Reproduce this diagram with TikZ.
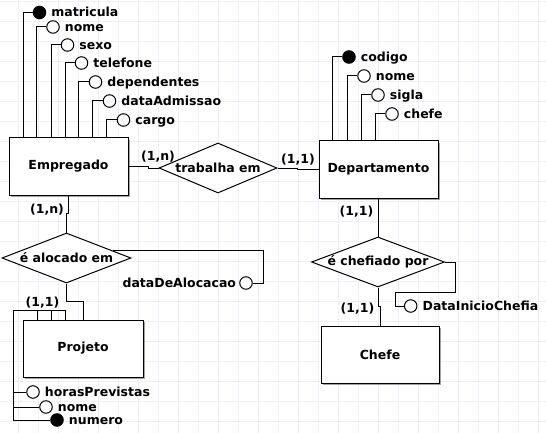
\documentclass[tikz,border=0pt]{standalone}
\usepackage{fontspec}
\setmainfont{DejaVu Sans}
\usetikzlibrary{shapes.geometric,shadows,calc}
\definecolor{gridv}{RGB}{232,240,249}
\definecolor{gridh}{RGB}{238,241,244}
\begin{document}
\begin{tikzpicture}[x=1pt,y=-1pt,
  every node/.style={font=\fontsize{12.5}{14}\selectfont\bfseries},
  ent/.style={draw, line width=1pt, fill=white, minimum width=119pt, minimum height=57pt, inner sep=0pt,
    drop shadow={shadow xshift=2pt, shadow yshift=-2pt, fill=black!60, opacity=0.6}},
  rel/.style={draw, diamond, line width=1pt, fill=white, inner sep=0pt, minimum height=50pt},
  att/.style={circle, draw, line width=1pt, fill=white, minimum size=12.5pt, inner sep=0pt},
  key/.style={att, fill=black},
  lbl/.style={anchor=base west, inner sep=0pt},
  card/.style={inner sep=0pt},
  conn/.style={line width=1pt}
]
\useasboundingbox (0,0) rectangle (546,433);
\fill[white] (0,0) rectangle (546,433);
\foreach \x in {18.3,38.3,...,546} \draw[gridv, line width=1pt] (\x,0) -- (\x,433);
\foreach \y in {1.3,21.3,...,433} \draw[gridh, line width=1pt] (0,\y) -- (546,\y);

% entities
\node[ent] (emp) at (68.5,166.5) {Empregado};
\node[ent] (dep) at (378.5,169.5) {Departamento};
\node[ent, minimum width=120pt] (proj) at (83,348.5) {Projeto};
\node[ent, minimum width=118pt] (chefe) at (380,354.5) {Chefe};

% relationships
\node[rel, minimum width=118pt] (trab) at (218,168) {\makebox[0pt]{trabalha em}};
\node[rel, minimum width=129pt] (aloc) at (66.5,258) {\makebox[0pt]{é alocado em}};
\node[rel, minimum width=133pt] (chef) at (378,262) {\makebox[0pt]{é chefiado por}};

% connectors
\draw[conn] (emp.east) -- ++(20,0) |- (trab.west);
\draw[conn] (trab.east) -- ++(20,0) |- (dep.west);
\draw[conn] (emp.south) -- ++(0,18) -| (aloc.north);
\draw[conn] (aloc.south) -- ++(0,18) -| (proj.north);
\draw[conn] (dep.south) -- ++(0,21) -| (chef.north);
\draw[conn] (chef.south) -- ++(0,19) -| (chefe.north);

% cardinalities
\node[card] (k1) at (158,157) {(1,n)};
\node[card] (k2) at (298,160) {(1,1)};
\node[card] (k3) at (47,210) {(1,n)};
\node[card] (k4) at (42.5,303) {(1,1)};
\node[card] (k5) at (356.5,212) {(1,1)};
\node[card] (k6) at (357.5,309) {(1,1)};

% Empregado attributes
\foreach \n/\t/\cx/\cy/\o/\s in {1/matricula/39.5/12.5/15/key, 2/nome/53/27/28/att, 3/sexo/67.5/45/43/att,
  4/telefone/81.5/63/57/att, 5/dependentes/95.5/82/70/att, 6/dataAdmissao/109.5/101/84/att, 7/cargo/123.5/120/98/att}{
  \node[\s] (e\n) at (\cx,\cy) {};
  \node[lbl] (e\n l) at ([xshift=5pt,yshift=-4.5pt]e\n.east) {\t};
  \draw[conn] (e\n.west) -| ($(emp.north west)+(\o,0)$);
}

% Departamento attributes
\foreach \n/\t/\cx/\cy/\o/\s in {1/codigo/349/57/14/key, 2/nome/364/76/29/att, 3/sigla/378/95/43/att, 4/chefe/392/114/57/att}{
  \node[\s] (d\n) at (\cx,\cy) {};
  \node[lbl] (d\n l) at ([xshift=5pt,yshift=-4.5pt]d\n.east) {\t};
  \draw[conn] (d\n.west) -| ($(dep.north west)+(\o,0)$);
}

% Projeto attributes
\foreach \n/\t/\cx/\cy/\o/\s in {1/horasPrevistas/33/392/15/att, 2/nome/46/407/29/att, 3/numero/57/420/43/key}{
  \node[\s] (p\n) at (\cx,\cy) {};
  \node[lbl] (p\n l) at ([xshift=5pt,yshift=-4.5pt]p\n.east) {\t};
  \draw[conn] ($(proj.north west)+(\o,0)$) |- (13,310.5) |- (p\n.west);
}

% relationship attributes
\coordinate (q) at ($(aloc.east)!0.29!(aloc.north)$);
\node[att] (dd) at (246,283) {};
\node[anchor=base east, inner sep=0pt] (ddl) at ([xshift=-3pt,yshift=-4.5pt]dd.west) {dataDeAlocacao};
\draw[conn] (q) -| ($(dd.east)+(11,0)$) -- (dd.east);

\node[att] (di) at (410.7,306) {};
\node[lbl] (dil) at ([xshift=5pt,yshift=-4.5pt]di.east) {DataInicioChefia};
\draw[conn] (chef.east) -- ++(10,0) |- (395,292) |- (di.west);
\end{tikzpicture}
\end{document}
